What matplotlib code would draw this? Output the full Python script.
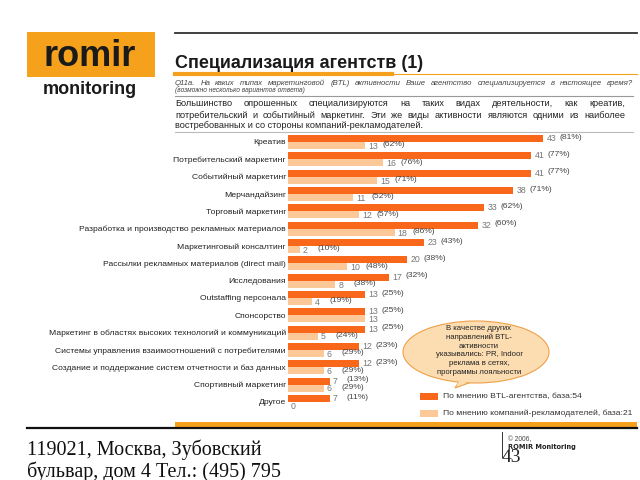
import matplotlib
matplotlib.use("Agg")
import matplotlib.pyplot as plt
from matplotlib.patches import Rectangle, Ellipse, Polygon
import numpy as np

plt.rcParams['font.family'] = ['Liberation Sans', 'DejaVu Sans']

# данные
categories = ['Креатив', 'Потребительский маркетинг', 'Событийный маркетинг',
              'Мерчандайзинг', 'Торговый маркетинг',
              'Разработка и производство рекламных материалов',
              'Маркетинговый консалтинг',
              'Рассылки рекламных материалов (direct mail)', 'Исследования',
              'Outstaffing персонала', 'Спонсорство',
              'Маркетинг в областях высоких технологий и коммуникаций',
              'Системы управления взаимоотношений с потребителями',
              'Создание и поддержание систем отчетности и баз данных',
              'Спортивный маркетинг', 'Другое']
btl_values = [43, 41, 41, 38, 33, 32, 23, 20, 17, 13, 13, 13, 12, 12, 7, 7]
btl_pct = [81, 77, 77, 71, 62, 60, 43, 38, 32, 25, 25, 25, 23, 23, 13, 11]
adv_values = [13, 16, 15, 11, 12, 18, 2, 10, 8, 4, 13, 5, 6, 6, 6, 0]
adv_pct = [62, 76, 71, 52, 57, 86, 10, 48, 38, 19, None, 24, 29, 29, 29, None]
legend_labels = ['По мнению BTL-агентства, база:54',
                 'По мнению компаний-рекламодателей, база:21']

dark = '#F8671A'
light = '#FDC898'
orange = '#F5A11C'

fig = plt.figure(figsize=(6.4, 4.8), dpi=100)

# область диаграммы (в пикселях: x 288..640, строки через 17.33 px)
row = 17.33
y0 = 142
ax = fig.add_axes([288 / 640, 1 - 415 / 480, 352 / 640, (415 - 128) / 480])
ax.set_xlim(0, 352 / 5.93)
ax.set_ylim((415 - y0) / row, -(y0 - 128) / row)
h = 7 / row
pos = np.arange(len(categories))
ax.barh(pos - h / 2, btl_values, height=h, color=dark, edgecolor='none')
ax.barh(pos + h / 2, adv_values, height=h, color=light, edgecolor='none')
for i in pos:
    v = btl_values[i]
    ax.text(v + 0.6, i - h / 2, str(v), fontsize=6.3, color='#777', va='center')
    ax.text(v + 2.8, i - h / 2 - 0.08, '(%d%%)' % btl_pct[i], fontsize=6.1,
            color='#444', va='center')
    v = adv_values[i]
    ax.text(v + 0.5, i + h / 2 + 0.05, str(v), fontsize=6.3, color='#777', va='center')
    if adv_pct[i] is not None:
        ax.text(v + 3.0, i + h / 2 - 0.03, '(%d%%)' % adv_pct[i], fontsize=6.1,
                color='#444', va='center')
ax.set_yticks(pos)
ax.set_yticklabels(categories, fontsize=6.1, color='#222')
ax.tick_params(axis='y', length=0, pad=1.5)
ax.set_xticks([])
for s in ax.spines.values():
    s.set_visible(False)
ax.patch.set_visible(False)

# оформление слайда в пиксельных координатах
bg = fig.add_axes([0, 0, 1, 1])
bg.set_xlim(0, 640)
bg.set_ylim(480, 0)
bg.axis('off')
bg.patch.set_visible(False)

# логотип
bg.add_patch(Rectangle((27, 32), 128, 45, color=orange, lw=0))
bg.text(90, 56, 'romir', fontsize=26, fontweight='bold', color='#1a1a1a',
        ha='center', va='center')
bg.text(90, 90, 'monitoring', fontsize=13, fontweight='bold', color='#1a1a1a',
        ha='center', va='center')

# шапка
bg.plot([175, 637], [33, 33], color='#333', lw=1.3)
bg.text(175, 68, 'Специализация агентств (1)', fontsize=13, fontweight='bold',
        color='#1a1a1a', ha='left', va='baseline')
bg.plot([175, 637], [73.5, 73.5], color=orange, lw=0.8)
bg.plot([175, 392], [73.5, 73.5], color=orange, lw=3)

renderer = fig.canvas.get_renderer()


def justify(y, line, x0, x1, **kw):
    words = line.split()
    texts = [bg.text(0, y, w, va='baseline', ha='left', **kw) for w in words]
    inv = bg.transData.inverted()
    widths = []
    for t in texts:
        bb = t.get_window_extent(renderer)
        a = inv.transform((bb.x0, bb.y0))
        b = inv.transform((bb.x1, bb.y0))
        widths.append(b[0] - a[0])
    gap = (x1 - x0 - sum(widths)) / max(len(words) - 1, 1)
    x = x0
    for t, w in zip(texts, widths):
        t.set_x(x)
        x += w + gap


justify(85, 'Q11a. На каких типах маркетинговой (BTL) активности Ваше агентство '
        'специализируется в настоящее время?', 175, 633, fontsize=5.6,
        style='italic', color='#444')
bg.text(175, 92, '(возможно несколько вариантов ответа)', fontsize=4.8,
        style='italic', color='#444', va='baseline')
bg.plot([175, 633], [95.5, 95.5], color='#999', lw=0.8)
summary = ['Большинство опрошенных специализируются на таких видах деятельности, как креатив,',
           'потребительский и событийный маркетинг. Эти же виды активности являются одними из наиболее',
           'востребованных и со стороны компаний-рекламодателей.']
justify(106, summary[0], 175, 625, fontsize=6.6, color='#222')
justify(118, summary[1], 175, 625, fontsize=6.6, color='#222')
bg.text(175, 128.5, summary[2], fontsize=6.6, color='#222', va='baseline')
bg.plot([175, 633], [132, 132], color='#bbb', lw=0.8)

# выноска
bg.add_patch(Polygon([[455, 388], [463, 375], [480, 379]], closed=True,
                     facecolor='#FCDDB2', edgecolor='#EFA048', lw=0.8, zorder=3))
bg.add_patch(Ellipse((476, 352), 146, 62, facecolor='#FCDDB2',
                     edgecolor='#EFA048', lw=0.8, zorder=4))
bg.add_patch(Polygon([[456, 386], [464, 374], [479, 378]], closed=True,
                     facecolor='#FCDDB2', edgecolor='none', zorder=5))
callout = ['В качестве других', 'направлений BTL-', 'активности',
           'указывались: PR, Indoor', 'реклама в сетях,', 'программы лояльности']
for k, s in enumerate(callout):
    bg.text(479, 329 + k * 8.6, s, fontsize=5.6, color='#222', ha='center',
            va='center', zorder=6)

# легенда
bg.add_patch(Rectangle((420, 393), 18, 7, color=dark, lw=0))
bg.add_patch(Rectangle((420, 410), 18, 7, color=light, lw=0))
bg.text(443, 397, legend_labels[0], fontsize=6.1, color='#333', va='center')
bg.text(443, 413.5, legend_labels[1], fontsize=6.1, color='#333', va='center')

# подвал
bg.plot([27, 637], [428, 428], color='#111', lw=1.6)
bg.add_patch(Rectangle((175, 421.5), 462, 5, color=orange, lw=0))
bg.text(27, 450, '119021, Москва, Зубовский', fontsize=14.5,
        family='Liberation Serif', color='#111', va='center')
bg.text(27, 472, 'бульвар, дом 4 Тел.: (495) 795', fontsize=14.5,
        family='Liberation Serif', color='#111', va='center')
bg.plot([502, 502], [432, 457], color='#333', lw=0.7)
bg.text(508, 440, '© 2006,', fontsize=4.8, color='#444', va='center')
bg.text(508, 447, 'ROMIR Monitoring', fontsize=4.8, fontweight='bold',
        family='DejaVu Sans', color='#222', va='center')
bg.text(502, 457, '43', fontsize=14, family='Liberation Serif', color='#222',
        va='center')

fig.savefig('out.png', dpi=100)
